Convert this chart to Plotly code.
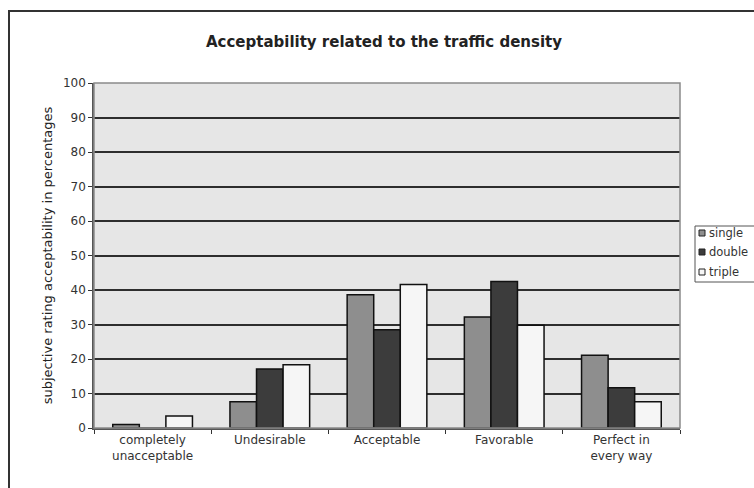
import plotly.graph_objects as go

categories = ["completely<br>unacceptable", "Undesirable", "Acceptable", "Favorable", "Perfect in<br>every way"]
series_names = ["single", "double", "triple"]
single = [1.0, 7.6, 38.6, 32.2, 21.1]
double = [0.0, 17.1, 28.5, 42.5, 11.7]
triple = [3.5, 18.3, 41.6, 29.8, 7.6]
colors = ["#8e8e8e", "#3c3c3c", "#f6f6f6"]

FONT = "DejaVu Sans, Verdana, sans-serif"

fig = go.Figure()
for name, vals, col in zip(series_names, [single, double, triple], colors):
    fig.add_trace(go.Bar(
        x=categories, y=vals, name=name, showlegend=False,
        marker=dict(color=col, line=dict(color="#111111", width=1.5)),
    ))

W, H = 754, 488
L, R, T, B = 94, 680, 83, 428
pw, ph = R - L, B - T

def px(x):
    return (x - L) / pw

def py(y):
    return (B - y) / ph

shapes = [
    dict(type="rect", xref="paper", yref="paper",
         x0=0, x1=1, y0=0, y1=1,
         line=dict(color="#8a8a8a", width=1.5), fillcolor="rgba(0,0,0,0)",
         layer="above"),
    dict(type="rect", xref="paper", yref="paper",
         x0=px(9), x1=px(770), y0=py(500), y1=py(11),
         line=dict(color="#333333", width=2), fillcolor="rgba(0,0,0,0)",
         layer="below"),
    dict(type="rect", xref="paper", yref="paper",
         x0=px(695), x1=px(770), y0=py(282), y1=py(226),
         line=dict(color="#555555", width=1), fillcolor="white"),
]
annotations = []
leg_y = [233, 252, 272]
for name, col, yy in zip(series_names, colors, leg_y):
    shapes.append(dict(type="rect", xref="paper", yref="paper",
                       x0=px(699), x1=px(705), y0=py(yy + 3), y1=py(yy - 3),
                       line=dict(color="#222222", width=1), fillcolor=col))
    annotations.append(dict(xref="paper", yref="paper", x=px(707), y=py(yy),
                            xanchor="left", yanchor="middle", showarrow=False,
                            text=name, font=dict(size=11.5, color="#333333")))

fig.update_layout(
    width=W, height=H,
    margin=dict(l=L, r=W - R, t=T, b=H - B, pad=0, autoexpand=False),
    paper_bgcolor="white",
    plot_bgcolor="#e6e6e6",
    barmode="group",
    bargap=0.32,
    bargroupgap=0,
    showlegend=False,
    font=dict(family=FONT, size=12, color="#333333"),
    title=dict(
        text="<b>Acceptability related to the traffic density</b>",
        font=dict(size=15, color="#222222", family=FONT),
        x=384 / W, xref="container", xanchor="center",
        y=1 - 42 / H, yref="container", yanchor="middle",
    ),
    xaxis=dict(
        type="category",
        showgrid=False,
        showline=True, linecolor="#555555", linewidth=1.5,
        ticks="outside", tickson="boundaries", ticklen=4, tickcolor="#333333",
        tickfont=dict(size=12, color="#333333"),
    ),
    yaxis=dict(
        range=[0, 100],
        dtick=10,
        showgrid=True, gridcolor="#2e2e2e", gridwidth=1.6,
        showline=True, linecolor="#555555", linewidth=1.5,
        ticks="outside", ticklen=4, tickcolor="#333333",
        tickfont=dict(size=12, color="#333333"),
        zeroline=False,
        title=dict(text="subjective rating acceptability in percentages",
                   font=dict(size=13, color="#222222"), standoff=7),
    ),
    shapes=shapes,
    annotations=annotations,
)

fig.write_html("out.html")
